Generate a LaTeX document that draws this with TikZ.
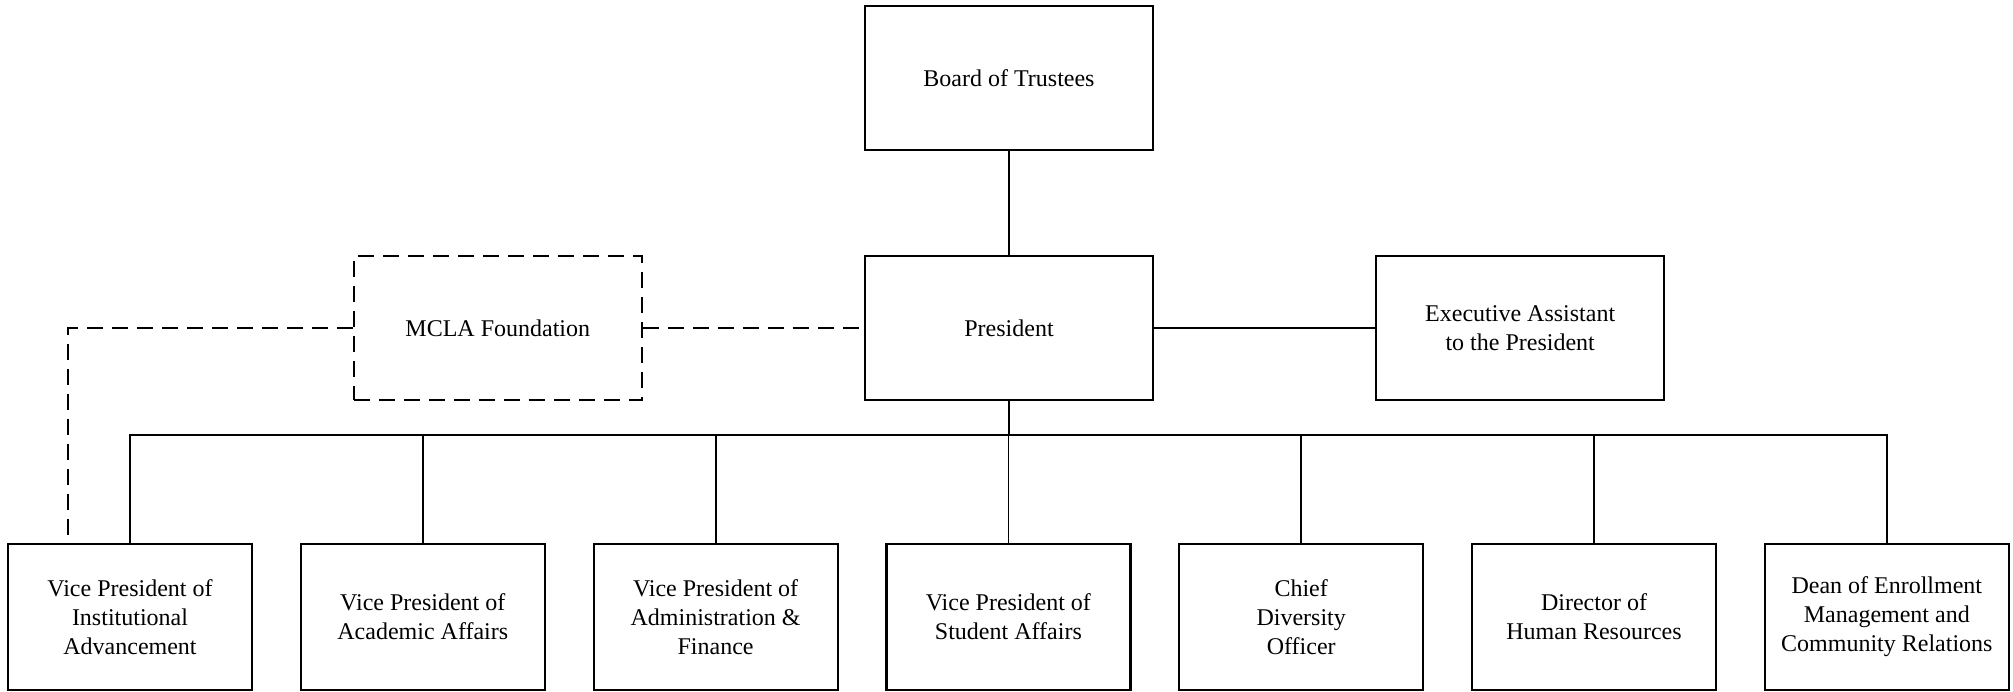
\documentclass[tikz,border=0pt]{standalone}
\usepackage{fontspec}
\setmainfont{Liberation Serif}
\usetikzlibrary{positioning}

\begin{document}
\begin{tikzpicture}[x=1pt, y=-1pt, node distance=46.6pt,
  every node/.style={font=\fontsize{24}{29}\selectfont, align=center},
  box/.style={draw, line width=2.2pt, rectangle, minimum width=288pt, minimum height=144pt},
  unitbox/.style={draw, line width=2.2pt, rectangle, minimum width=244pt, minimum height=146pt},
  link/.style={line width=1.8pt}]
  \useasboundingbox (0,0) rectangle (2013,691);
  \node[box] (board) at (1009,78) {Board of Trustees};
  \node[box, below=104pt of board] (pres) {President};
  \node[box, dash pattern=on 16pt off 9pt, left=221pt of pres] (found) {MCLA Foundation};
  \node[box, right=221pt of pres] (exec) {Executive Assistant\\to the President};
  \node[unitbox] (vpia) at (130,617) {Vice President of\\Institutional\\Advancement};
  \node[unitbox, right=of vpia] (vpaa) {Vice President of\\Academic Affairs};
  \node[unitbox, right=of vpaa] (vpaf) {Vice President of\\Administration \&\\Finance};
  \node[unitbox, right=of vpaf] (vpsa) {Vice President of\\Student Affairs};
  \node[unitbox, right=of vpsa] (cdo) {Chief\\Diversity\\Officer};
  \node[unitbox, right=of cdo] (dhr) {Director of\\Human Resources};
  \node[unitbox, right=of dhr] (dean) {Dean of Enrollment\\Management and\\Community Relations};
  \coordinate (bus) at (pres.south |- 0,435);
  \coordinate (dashend) at (68,537);
  % solid reporting lines
  \draw[link] (board) -- (pres);
  \draw[link] (pres) -- (exec);
  \draw[link] (pres) -- (bus);
  \draw[link] (vpia.north) |- (bus) -| (dean.north);
  \foreach \n in {vpaa,vpaf,vpsa,cdo,dhr}
    \draw[link] (\n.north) -- (\n.north |- bus);
  % foundation (dashed)
  \draw[link, dash pattern=on 16pt off 9pt] (found) -- (pres);
  \draw[link, dash pattern=on 16pt off 9pt] (found.west) -| (dashend);
\end{tikzpicture}
\end{document}
